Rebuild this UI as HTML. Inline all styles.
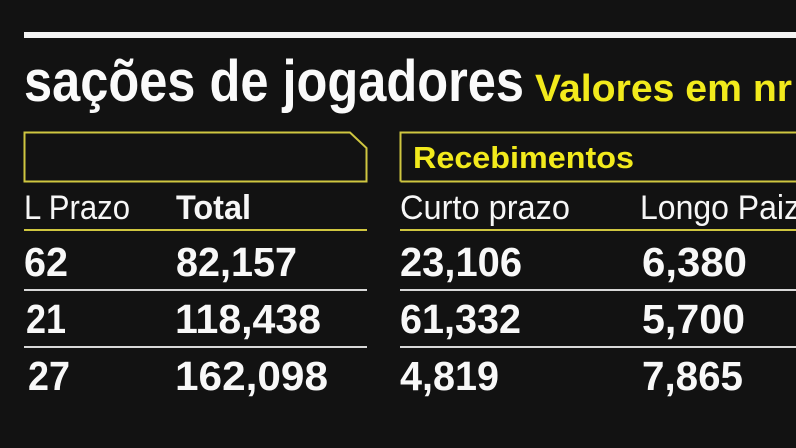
<!DOCTYPE html>
<html><head><meta charset="utf-8"><style>
html,body{margin:0;padding:0;background:#121212;}
svg{display:block}
text{font-family:"Liberation Sans",sans-serif;}
</style></head><body>
<svg width="796" height="448" viewBox="0 0 796 448" xmlns="http://www.w3.org/2000/svg">
<rect width="796" height="448" fill="#121212"/>
<rect x="24" y="32" width="772" height="6" fill="#f4f4f4"/>
<text x="24" y="101" font-size="58" font-weight="bold" fill="#fafafa" textLength="500" lengthAdjust="spacingAndGlyphs">sações de jogadores</text>
<text x="535" y="101" font-size="38" font-weight="bold" fill="#f2ea1c" textLength="257" lengthAdjust="spacingAndGlyphs">Valores em nr</text>
<path d="M24.5 132.5 H350 L366.5 148 V181.5 H24.5 Z" fill="none" stroke="#cfc640" stroke-width="2"/>
<path d="M400.5 181.5 V132.5 H800 M400.5 181.5 H800" fill="none" stroke="#cfc640" stroke-width="2"/>
<text x="413" y="168" font-size="31" font-weight="bold" fill="#f2ea1c" textLength="221" lengthAdjust="spacingAndGlyphs">Recebimentos</text>
<g font-size="34" fill="#f6f6f6">
<text x="24" y="219" textLength="106" lengthAdjust="spacingAndGlyphs">L Prazo</text>
<text x="176" y="219" font-weight="bold" textLength="75" lengthAdjust="spacingAndGlyphs">Total</text>
<text x="400" y="219" textLength="170" lengthAdjust="spacingAndGlyphs">Curto prazo</text>
<text x="640" y="219" textLength="160" lengthAdjust="spacingAndGlyphs">Longo Paiz</text>
</g>
<rect x="24" y="229" width="343" height="2" fill="#cfc640"/>
<rect x="400" y="229" width="396" height="2" fill="#cfc640"/>
<rect x="24" y="289" width="343" height="2" fill="#d8d8d8"/>
<rect x="400" y="289" width="396" height="2" fill="#d8d8d8"/>
<rect x="24" y="346" width="343" height="2" fill="#d8d8d8"/>
<rect x="400" y="346" width="396" height="2" fill="#d8d8d8"/>
<g font-size="41" font-weight="bold" fill="#f8f8f8">
<text x="24" y="276" textLength="44" lengthAdjust="spacingAndGlyphs">62</text>
<text x="176" y="276" textLength="121" lengthAdjust="spacingAndGlyphs">82,157</text>
<text x="400" y="276" textLength="122" lengthAdjust="spacingAndGlyphs">23,106</text>
<text x="642" y="276" textLength="105" lengthAdjust="spacingAndGlyphs">6,380</text>
<text x="26" y="333" textLength="40" lengthAdjust="spacingAndGlyphs">21</text>
<text x="175" y="333" textLength="146" lengthAdjust="spacingAndGlyphs">118,438</text>
<text x="400" y="333" textLength="121" lengthAdjust="spacingAndGlyphs">61,332</text>
<text x="642" y="333" textLength="103" lengthAdjust="spacingAndGlyphs">5,700</text>
<text x="28" y="390" textLength="42" lengthAdjust="spacingAndGlyphs">27</text>
<text x="175" y="390" textLength="153" lengthAdjust="spacingAndGlyphs">162,098</text>
<text x="400" y="390" textLength="99" lengthAdjust="spacingAndGlyphs">4,819</text>
<text x="642" y="390" textLength="101" lengthAdjust="spacingAndGlyphs">7,865</text>
</g>
</svg>
</body></html>
